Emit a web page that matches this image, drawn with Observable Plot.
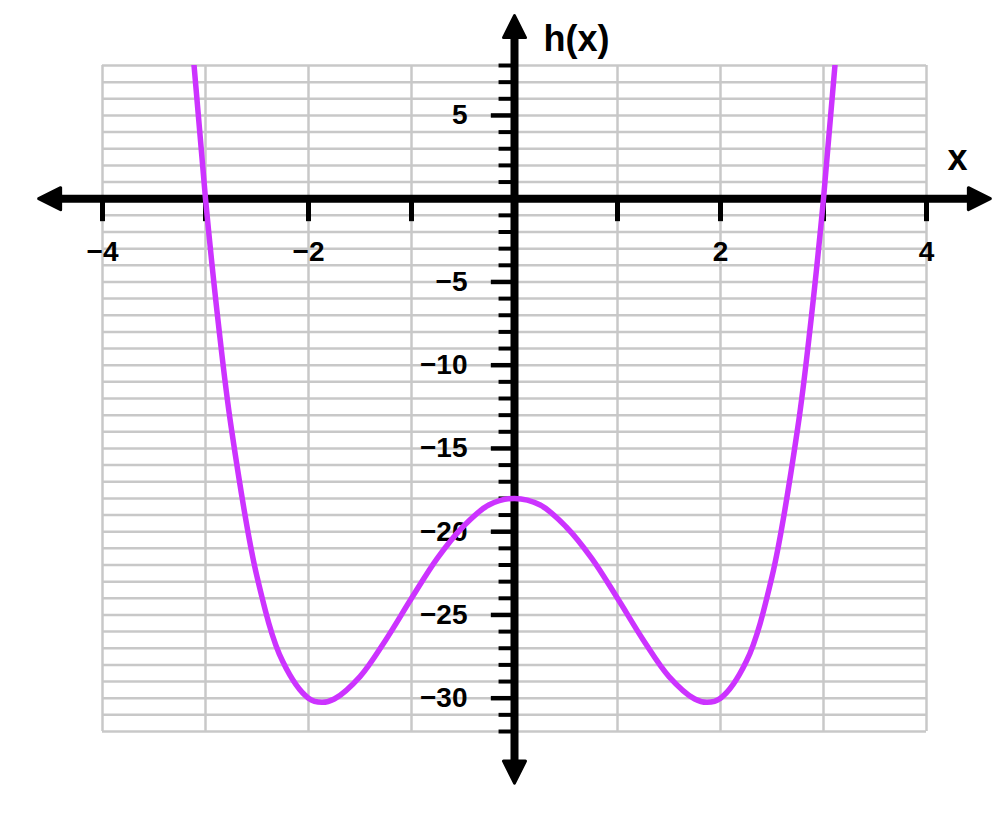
<!DOCTYPE html>
<html>
<head>
<meta charset="utf-8">
<script src="https://cdn.jsdelivr.net/npm/d3@7"></script>
<script src="https://cdn.jsdelivr.net/npm/@observablehq/plot@0.6"></script>
<style>
  html, body { margin: 0; padding: 0; background: #fff; }
</style>
</head>
<body>
<div id="chart"></div>
<script>
// ---- data ----
const curveX = [-3.25, -3.125, -3, -2.875, -2.75, -2.5, -2.25, -2, -1.87, -1.75, -1.5, -1.25, -1, -0.75, -0.5, -0.25, 0,
                0.25, 0.5, 0.75, 1, 1.25, 1.5, 1.75, 1.87, 2, 2.25, 2.5, 2.75, 2.875, 3, 3.125, 3.25];
const curveY = [19.6, 9.0, 0, -7.5, -13.75, -22.7, -27.8, -30, -30.25, -30.05, -28.7, -26.5, -24, -21.6, -19.7, -18.4, -18,
                -18.4, -19.7, -21.6, -24, -26.5, -28.7, -30.05, -30.25, -30, -27.8, -22.7, -13.75, -7.5, 0, 9.0, 19.6];

const xDomain = [-4, 4];
const yDomain = [-32, 8];
const xGridLines = [-4, -3, -2, -1, 0, 1, 2, 3, 4];
const yGridLines = d3.range(-32, 9, 1);
const xTickMarks = [-4, -3, -2, -1, 1, 2, 3, 4];
const xTickLabels = [-4, -2, 2, 4];
const yMinorTicks = d3.range(-32, 9, 1).filter(v => v !== 0 && v % 5 !== 0);
const yMajorTicks = [5, -5, -10, -15, -20, -25, -30];
const yTickLabels = [5, -5, -10, -15, -20, -25, -30];
const xAxisExtent = [-4.62, 4.62];
const yAxisExtent = [-35.1, 11.0];
const xAxisTitle = "x";
const yAxisTitle = "h(x)";

const curve = curveX.map((x, i) => ({x, y: curveY[i]}));
const fmt = v => (v < 0 ? "\u2212" + Math.abs(v) : String(v));

// arrowhead symbol: tip at origin, pointing up, base behind
const arrowSymbol = {
  draw(ctx) {
    ctx.moveTo(0, 0);
    ctx.lineTo(11, 22);
    ctx.lineTo(-11, 22);
    ctx.closePath();
  }
};

const arrows = [
  {x: xAxisExtent[1], y: 0, r: 90},
  {x: xAxisExtent[0], y: 0, r: 270},
  {x: 0, y: yAxisExtent[1], r: 0},
  {x: 0, y: yAxisExtent[0], r: 180}
];

const font = "'Liberation Sans', Arial, Helvetica, sans-serif";

const chart = Plot.plot({
  width: 1000,
  height: 813,
  marginLeft: 102,
  marginRight: 74,
  marginTop: 65,
  marginBottom: 82,
  x: {domain: xDomain, axis: null},
  y: {domain: yDomain, axis: null},
  style: {fontFamily: font, background: "#fff", overflow: "visible"},
  marks: [
    // grid
    Plot.ruleX(xGridLines, {x: d => d, y1: yDomain[0], y2: yDomain[1], stroke: "#c8c8c8", strokeWidth: 2.5}),
    Plot.ruleY(yGridLines, {y: d => d, x1: xDomain[0], x2: xDomain[1], stroke: "#c8c8c8", strokeWidth: 2.5}),
    // axes lines
    Plot.ruleY([0], {x1: xAxisExtent[0], x2: xAxisExtent[1], insetLeft: 18, insetRight: 18, stroke: "#000", strokeWidth: 8}),
    Plot.ruleX([0], {y1: yAxisExtent[1], y2: yAxisExtent[0], insetTop: 18, insetBottom: 18, stroke: "#000", strokeWidth: 8}),
    Plot.dot(arrows, {x: "x", y: "y", rotate: "r", symbol: arrowSymbol, fill: "#000", stroke: "#000", strokeWidth: 3, strokeLinejoin: "round", r: 10}),
    // x tick marks
    Plot.ruleX(xTickMarks, {x: d => d, y1: 0, y2: -1.38, stroke: "#000", strokeWidth: 5}),
    // y tick marks
    Plot.ruleY(yMinorTicks, {y: d => d, x1: -0.15, x2: 0, stroke: "#000", strokeWidth: 4}),
    Plot.ruleY(yMajorTicks, {y: d => d, x1: -0.225, x2: 0, stroke: "#000", strokeWidth: 4.5}),
    // tick labels
    Plot.text(xTickLabels, {x: d => d, y: 0, dy: 53, text: fmt, fontSize: 28, fontWeight: "bold", fill: "#000"}),
    Plot.text(yTickLabels, {x: 0, y: d => d, dx: -47, text: fmt, textAnchor: "end", fontSize: 28, fontWeight: "bold", fill: "#000"}),
    // axis titles
    Plot.text([yAxisTitle], {x: 0, y: yDomain[1], dx: 29, dy: -26, text: d => d, textAnchor: "start", fontSize: 36, fontWeight: "bold", fill: "#000"}),
    Plot.text([xAxisTitle], {x: xDomain[1], y: 0, dx: 31, dy: -40, text: d => d, fontSize: 36, fontWeight: "bold", fill: "#000"}),
    // curve
    Plot.line(curve, {x: "x", y: "y", curve: "catmull-rom", stroke: "#cc33ff", strokeWidth: 5.5, clip: true})
  ]
});

document.getElementById("chart").appendChild(chart);
</script>
</body>
</html>
